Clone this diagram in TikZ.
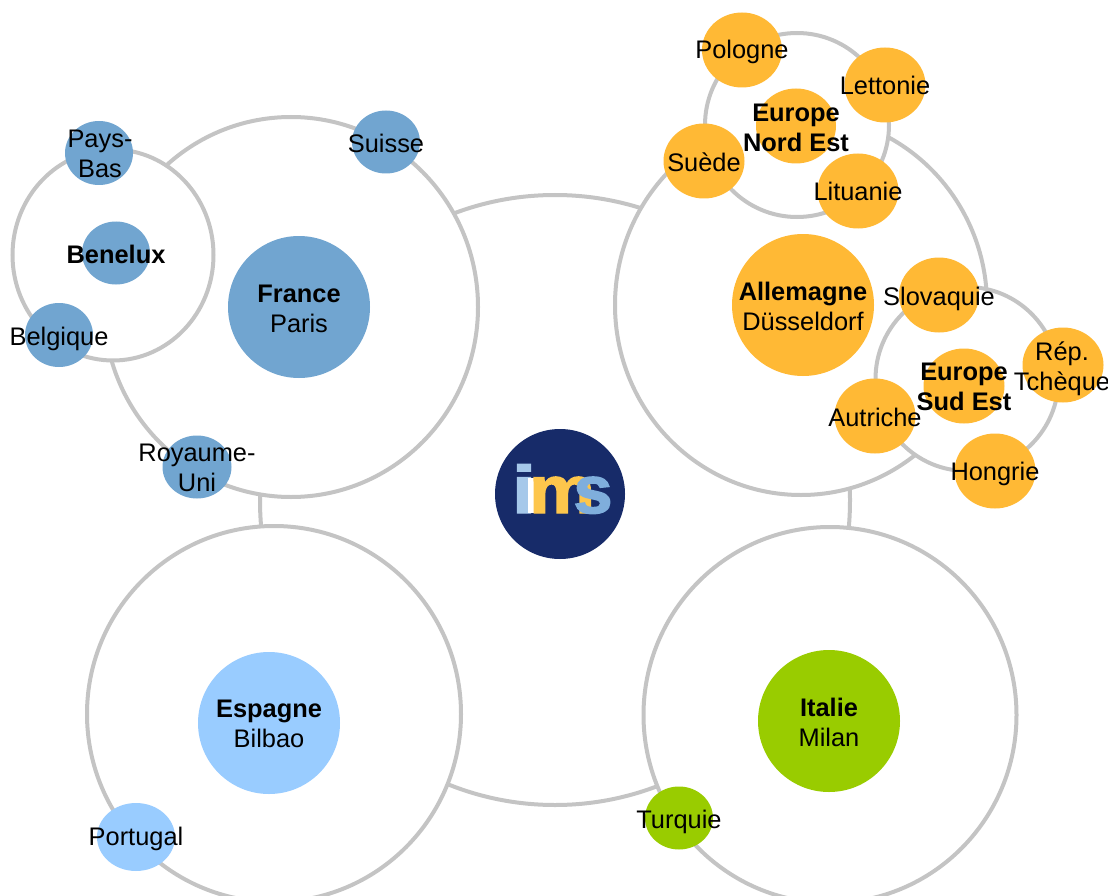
\documentclass[tikz,border=0pt]{standalone}
\usepackage{fontspec}
\setmainfont{Liberation Sans}
\newfontfamily\logofont[RawFeature={embolden=2.2}]{Liberation Sans Bold}
\usetikzlibrary{shapes.geometric}
\definecolor{ringgray}{HTML}{C4C4C4}
\definecolor{frblue}{HTML}{71A5D0}
\definecolor{esblue}{HTML}{99CCFF}
\definecolor{itgreen}{HTML}{99CC00}
\definecolor{deorange}{HTML}{FFB935}
\definecolor{navy}{HTML}{172B69}
\definecolor{imsi}{HTML}{A5C8EA}
\definecolor{imsm}{HTML}{FDC64C}
\definecolor{imss}{HTML}{7FAEDC}
\tikzset{
  ring/.style={ellipse,draw=ringgray,line width=4pt,fill=white,inner sep=0,minimum width=#1},
  ringh/.style={minimum height=#1},
  blob/.style 2 args={ellipse,draw=none,inner sep=0,minimum width=#1,minimum height=#2},
  lab/.style={inner sep=0,align=center,text=black,font=\fontsize{25.4}{30}\selectfont},
  logoletter/.style={inner sep=0,font=\bfseries\fontsize{67}{67}\selectfont}
}
\newcommand{\hd}[1]{\textbf{#1}}
\begin{document}
\begin{tikzpicture}[x=1pt,y=-1pt]
\useasboundingbox (0,0) rectangle (1108,896);
\clip (0,0) rectangle (1108,896);
% rings
\node[ring=590pt,ringh=610pt] (rcentre) at (555,500) {};
\node[ring=374pt,ringh=380pt] (rfrance) at (291,307) {};
\node[ring=201pt,ringh=211pt] (rbenelux) at (113,255) {};
\node[ring=372pt,ringh=380pt] (rallemagne) at (801,305) {};
\node[ring=184pt,ringh=184pt] (rnord) at (797,125) {};
\node[ring=183pt,ringh=184pt] (rsud) at (967,379) {};
\node[ring=374pt,ringh=376pt] (respagne) at (274,714) {};
\node[ring=373pt,ringh=376pt] (ritalie) at (830,715) {};
% blue group
\node[blob={142pt}{142pt},fill=frblue] (france) at (299,307) {};
\node[blob={68pt}{63pt},fill=frblue] (benelux) at (116,253) {};
\node[blob={68pt}{64pt},fill=frblue] (paysbas) at (99,153) {};
\node[blob={68pt}{64pt},fill=frblue] (belgique) at (59,335) {};
\node[blob={68pt}{63pt},fill=frblue] (suisse) at (386,142) {};
\node[blob={69pt}{63pt},fill=frblue] (ru) at (197,467) {};
% Spain
\node[blob={142pt}{142pt},fill=esblue] (espagne) at (269,723) {};
\node[blob={78pt}{68pt},fill=esblue] (portugal) at (136,837) {};
% Italy
\node[blob={142pt}{142pt},fill=itgreen] (italie) at (829,721) {};
\node[blob={68pt}{63pt},fill=itgreen] (turquie) at (679,818) {};
% Germany
\node[blob={142pt}{142pt},fill=deorange] (allemagne) at (803,305) {};
\node[blob={80pt}{75pt},fill=deorange] (pologne) at (742,50) {};
\node[blob={81pt}{75pt},fill=deorange] (lettonie) at (885,85) {};
\node[blob={80pt}{75pt},fill=deorange] (nordest) at (796,126) {};
\node[blob={81pt}{75pt},fill=deorange] (suede) at (704,161) {};
\node[blob={81pt}{75pt},fill=deorange] (lituanie) at (858,191) {};
\node[blob={80pt}{75pt},fill=deorange] (slovaquie) at (939,295) {};
\node[blob={81pt}{75pt},fill=deorange] (sudest) at (964,386) {};
\node[blob={81pt}{75pt},fill=deorange] (rep) at (1063,365) {};
\node[blob={81pt}{75pt},fill=deorange] (autriche) at (875,416) {};
\node[blob={81pt}{75pt},fill=deorange] (hongrie) at (995,471) {};
% labels
\node[lab] (lfrance) at (299,309) {\hd{France}\\Paris};
\node[lab] (lbenelux) at (116,254) {\hd{Benelux}};
\node[lab] (lpaysbas) at (100,154) {Pays-\\Bas};
\node[lab] (lbelgique) at (59,339) {Belgique};
\node[lab] (lsuisse) at (386,143) {Suisse};
\node[lab] (lru) at (197,467.5) {Royaume-\\Uni};
\node[lab] (lespagne) at (269,724) {\hd{Espagne}\\Bilbao};
\node[lab] (lportugal) at (136,839) {Portugal};
\node[lab] (litalie) at (829,722) {\hd{Italie}\\Milan};
\node[lab] (lturquie) at (679,822) {Turquie};
\node[lab] (lallemagne) at (803,306) {\hd{Allemagne}\\Düsseldorf};
\node[lab] (lpologne) at (742,52) {Pologne};
\node[lab] (llettonie) at (885,85) {Lettonie};
\node[lab] (lnordest) at (796,128) {\hd{Europe}\\\hd{Nord Est}};
\node[lab] (lsuede) at (704,162) {Suède};
\node[lab] (llituanie) at (858,191) {Lituanie};
\node[lab] (lslovaquie) at (939,299) {Slovaquie};
\node[lab] (lsudest) at (964,387) {\hd{Europe}\\\hd{Sud Est}};
\node[lab] (lrep) at (1062,369) {Rép.\\Tchèque};
\node[lab] (lautriche) at (875,417) {Autriche};
\node[lab] (lhongrie) at (995,474) {Hongrie};
% logo
\node[circle,fill=navy,inner sep=0,minimum size=130pt] (logo) at (560,494) {};
\node[logoletter,text=imsi,xscale=1.35,anchor=base] (logoi) at (524,513) {\logofont i};
\fill[white] (528,478) rectangle (535,513);
\node[logoletter,text=imsm,xscale=1.1,anchor=base] (logom) at (562,513) {\logofont m};
\node[logoletter,text=imss,xscale=1.05,anchor=base] (logos) at (593,513) {\logofont s};
\end{tikzpicture}
\end{document}
